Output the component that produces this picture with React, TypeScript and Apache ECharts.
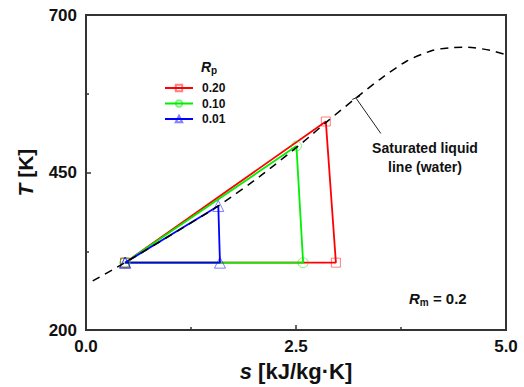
import React, { useEffect, useRef } from "react";
import * as echarts from "echarts";

// Saturated liquid line (water)
const satS = [0.08, 0.465, 1.0, 1.575, 2.1, 2.59, 2.88, 3.22, 3.5, 3.82, 4.13, 4.33, 4.48, 4.62, 4.81, 5.0];
const satT = [278, 307, 350, 397, 447, 499, 532, 569, 598, 627, 644, 648, 649, 648, 644, 637];

// Cycles for each R_p
const rpLabels = ["0.20", "0.10", "0.01"];
const redS = [0.465, 2.855, 2.975, 0.465];
const redT = [307, 531, 307, 307];
const greenS = [0.465, 2.505, 2.585, 0.465];
const greenT = [307, 492, 307, 307];
const blueS = [0.465, 1.575, 1.595, 0.465];
const blueT = [307, 397, 307, 307];

// Leader line for the annotation (data coordinates)
const leaderS = [3.21, 3.51];
const leaderT = [569, 512];
const barS = [3.17, 3.26];
const barT = [566, 571];

const xTicks = [0, 2.5, 5.0];
const yTicks = [200, 450, 700];

const FONT = "Liberation Sans, Arial, sans-serif";

const zip = (a: number[], b: number[]) => a.map((v, i) => [v, b[i]]);

export default function App() {
  const ref = useRef<HTMLDivElement>(null);
  useEffect(() => {
    if (!ref.current) return;
    const chart = echarts.init(ref.current, null, { renderer: "svg" });
    const cycle = (
      name: string,
      s: number[],
      t: number[],
      color: string,
      light: string,
      symbol: string,
      size: number
    ) => ({
      name,
      type: "line",
      data: zip(s, t),
      symbol,
      symbolSize: size,
      showAllSymbol: true,
      lineStyle: { color, width: 1.8 },
      itemStyle: { color: "rgba(255,255,255,0)", borderColor: light, borderWidth: 1 },
      emphasis: { disabled: true },
    });
    chart.setOption({
      animation: false,
      grid: {
        left: 86,
        right: 18,
        top: 15,
        bottom: 53,
        show: true,
        borderColor: "#333",
        borderWidth: 2,
      },
      xAxis: {
        type: "value",
        min: 0,
        max: 5,
        interval: 2.5,
        axisLine: { show: true, lineStyle: { color: "#333", width: 2 } },
        axisTick: { show: true, inside: true, length: 5, lineStyle: { color: "#333", width: 1.5 } },
        minorTick: { show: true, splitNumber: 2, length: 3, lineStyle: { color: "#333", width: 1.5 } },
        splitLine: { show: false },
        axisLabel: {
          margin: 8,
          color: "#111",
          fontFamily: FONT,
          fontWeight: "bold",
          fontSize: 17,
          formatter: (v: number) => (xTicks.some((t) => Math.abs(t - v) < 1e-6) ? v.toFixed(1) : ""),
        },
        name: "{i|s} [kJ/kg·K]",
        nameLocation: "middle",
        nameGap: 28,
        nameTextStyle: {
          color: "#111",
          fontFamily: FONT,
          fontWeight: "bold",
          fontSize: 22,
          rich: {
            i: { fontFamily: FONT, fontWeight: "bold", fontStyle: "italic", fontSize: 22, color: "#111" },
          },
        },
      },
      yAxis: {
        type: "value",
        min: 200,
        max: 700,
        interval: 250,
        axisLine: { show: true, lineStyle: { color: "#333", width: 2 } },
        axisTick: { show: true, inside: true, length: 5, lineStyle: { color: "#333", width: 1.5 } },
        minorTick: { show: true, splitNumber: 2, length: 3, lineStyle: { color: "#333", width: 1.5 } },
        splitLine: { show: false },
        axisLabel: {
          margin: 9,
          color: "#111",
          fontFamily: FONT,
          fontWeight: "bold",
          fontSize: 17,
          formatter: (v: number) => (yTicks.includes(Math.round(v)) ? String(Math.round(v)) : ""),
        },
        name: "{i|T} [K]",
        nameLocation: "middle",
        nameGap: 50,
        nameTextStyle: {
          color: "#111",
          fontFamily: FONT,
          fontWeight: "bold",
          fontSize: 21,
          rich: {
            i: { fontFamily: FONT, fontWeight: "bold", fontStyle: "italic", fontSize: 21, color: "#111" },
          },
        },
      },
      legend: {
        data: rpLabels,
        orient: "vertical",
        left: 164,
        top: 82,
        padding: 0,
        itemWidth: 28,
        itemHeight: 8,
        itemGap: 3.5,
        selectedMode: false,
        formatter: (name: string) => "{t|" + name + "}",
        textStyle: {
          fontFamily: FONT,
          fontWeight: "bold",
          fontSize: 12,
          lineHeight: 12,
          color: "#111",
          rich: {
            t: {
              fontFamily: FONT,
              fontWeight: "bold",
              fontSize: 12,
              lineHeight: 12,
              color: "#111",
              padding: [0, 0, 0, 4],
            },
          },
        },
      },
      graphic: [
        {
          type: "text",
          left: 201,
          top: 60,
          style: {
            text: "{r|R}{s|p}",
            rich: {
              r: { fontFamily: FONT, fontWeight: "bold", fontStyle: "italic", fontSize: 14, lineHeight: 16, fill: "#111" },
              s: { fontFamily: FONT, fontWeight: "bold", fontSize: 10, lineHeight: 10, verticalAlign: "bottom", fill: "#111" },
            },
          },
        },
        {
          type: "text",
          x: 425,
          y: 157,
          style: {
            text: "Saturated liquid\nline (water)",
            fontFamily: FONT,
            fontWeight: "bold",
            fontSize: 14,
            lineHeight: 19,
            align: "center",
            verticalAlign: "middle",
            fill: "#111",
          },
        },
        {
          type: "text",
          left: 409,
          top: 291,
          style: {
            text: "{r|R}{s|m}{t| = 0.2}",
            rich: {
              r: { fontFamily: FONT, fontWeight: "bold", fontStyle: "italic", fontSize: 15, lineHeight: 17, fill: "#111" },
              s: { fontFamily: FONT, fontWeight: "bold", fontSize: 10, lineHeight: 10, verticalAlign: "bottom", fill: "#111" },
              t: { fontFamily: FONT, fontWeight: "bold", fontSize: 15, lineHeight: 17, fill: "#111" },
            },
          },
        },
      ],
      series: [
        cycle(rpLabels[0], redS, redT, "#ff0000", "rgba(255,0,0,0.5)", "rect", 9),
        cycle(rpLabels[1], greenS, greenT, "#00f000", "rgba(0,230,0,0.5)", "circle", 10),
        cycle(rpLabels[2], blueS, blueT, "#0000ff", "rgba(0,0,255,0.5)", "triangle", 11),
        {
          name: "sat",
          type: "line",
          data: zip(satS, satT),
          symbol: "none",
          smooth: 0.25,
          lineStyle: { color: "#000", width: 1.5, type: [8, 6] },
          emphasis: { disabled: true },
          z: 5,
        },
        {
          name: "leader",
          type: "line",
          data: zip(leaderS, leaderT),
          symbol: "none",
          lineStyle: { color: "#222", width: 1 },
          emphasis: { disabled: true },
        },
        {
          name: "leaderBar",
          type: "line",
          data: zip(barS, barT),
          symbol: "none",
          lineStyle: { color: "#222", width: 1 },
          emphasis: { disabled: true },
        },
      ],
    });
    return () => chart.dispose();
  }, []);
  return (
    <div
      ref={ref}
      style={{ position: "fixed", left: 0, top: 0, width: 524, height: 387, background: "#fff" }}
    />
  );
}
